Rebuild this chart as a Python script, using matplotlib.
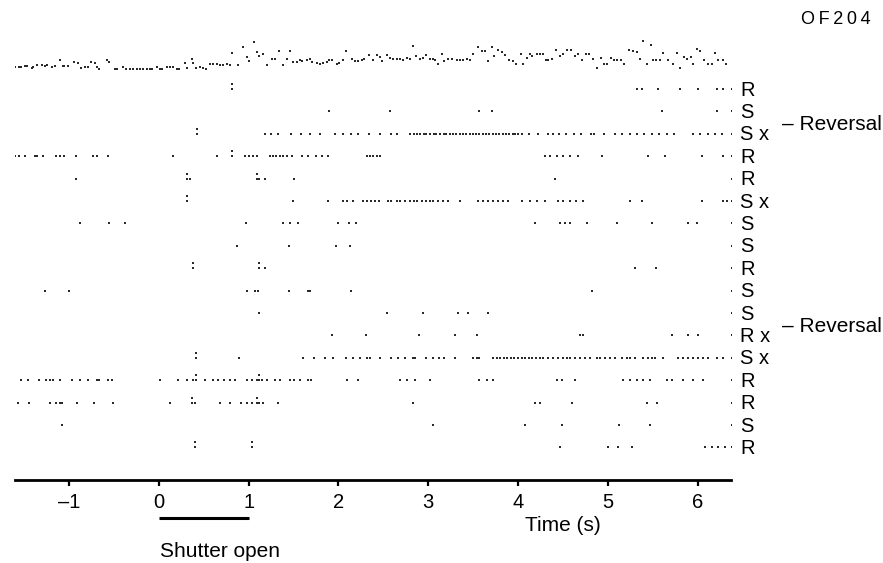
import matplotlib
matplotlib.use('Agg')
import matplotlib.pyplot as plt

plt.rcParams['font.family'] = ['Liberation Sans', 'DejaVu Sans']

# ---- data -------------------------------------------------------------
# top record (time in s, level in arbitrary units)
trace_t = [
    -1.63, -1.60, -1.55, -1.53, -1.49, -1.47, -1.41, -1.40, -1.35, -1.30,
    -1.27, -1.24, -1.19, -1.16, -1.10, -1.07, -1.05, -1.01, -0.94, -0.90,
    -0.86, -0.82, -0.79, -0.75, -0.71, -0.69, -0.66, -0.58, -0.55, -0.49,
    -0.46, -0.40, -0.36, -0.32, -0.29, -0.24, -0.21, -0.18, -0.13, -0.10,
    -0.07, -0.02, 0.01, 0.04, 0.09, 0.12, 0.16, 0.20, 0.23, 0.29,
    0.32, 0.37, 0.38, 0.42, 0.46, 0.49, 0.53, 0.57, 0.60, 0.65,
    0.68, 0.71, 0.76, 0.79, 0.82, 0.88, 0.94, 0.98, 1.01, 1.06,
    1.09, 1.12, 1.16, 1.20, 1.26, 1.29, 1.34, 1.38, 1.43, 1.46,
    1.49, 1.54, 1.57, 1.60, 1.65, 1.68, 1.71, 1.76, 1.79, 1.83,
    1.87, 1.90, 1.93, 1.98, 2.01, 2.05, 2.09, 2.15, 2.18, 2.22,
    2.26, 2.29, 2.34, 2.38, 2.43, 2.46, 2.49, 2.54, 2.57, 2.61,
    2.65, 2.68, 2.72, 2.76, 2.80, 2.83, 2.86, 2.91, 2.94, 2.98,
    3.02, 3.05, 3.07, 3.11, 3.15, 3.18, 3.22, 3.26, 3.32, 3.35,
    3.39, 3.43, 3.46, 3.50, 3.55, 3.60, 3.63, 3.66, 3.71, 3.73,
    3.78, 3.82, 3.85, 3.90, 3.94, 3.98, 4.03, 4.06, 4.10, 4.13,
    4.16, 4.21, 4.24, 4.28, 4.31, 4.33, 4.38, 4.42, 4.47, 4.50,
    4.54, 4.59, 4.63, 4.67, 4.71, 4.76, 4.79, 4.83, 4.88, 4.92,
    4.96, 4.99, 5.03, 5.07, 5.10, 5.14, 5.18, 5.23, 5.28, 5.32,
    5.36, 5.39, 5.43, 5.48, 5.50, 5.53, 5.58, 5.61, 5.67, 5.72,
    5.77, 5.80, 5.85, 5.88, 5.92, 5.95, 5.99, 6.02, 6.07, 6.11,
    6.16, 6.19, 6.23, 6.28, 6.31,
]
trace_level = [
    3, 3, 3, 3, 4, 4, 2, 3, 5, 5,
    4, 5, 3, 4, 10, 4, 4, 4, 8, 7,
    2, 3, 3, 8, 7, 3, 1, 10, 8, 1,
    1, 3, 1, 1, 1, 1, 1, 1, 1, 1,
    1, 3, 1, 1, 3, 3, 3, 1, 1, 7,
    2, 11, 7, 2, 3, 2, 1, 6, 6, 6,
    5, 5, 6, 5, 17, 5, 23, 13, 9, 28,
    18, 14, 16, 5, 11, 11, 19, 5, 11, 19,
    8, 8, 10, 9, 10, 11, 8, 7, 6, 7,
    8, 10, 10, 6, 7, 10, 19, 11, 9, 9,
    10, 11, 15, 10, 15, 13, 9, 15, 12, 11,
    11, 11, 10, 12, 11, 24, 14, 11, 12, 15,
    11, 11, 10, 6, 16, 9, 11, 11, 10, 10,
    10, 11, 10, 16, 23, 19, 19, 9, 23, 14,
    20, 18, 15, 10, 9, 6, 16, 6, 12, 16,
    14, 16, 16, 16, 10, 10, 11, 20, 14, 16,
    20, 20, 14, 16, 10, 16, 16, 11, 2, 12,
    6, 6, 12, 10, 10, 10, 6, 20, 19, 18,
    11, 29, 6, 25, 10, 10, 10, 17, 10, 6,
    17, 2, 13, 11, 13, 6, 21, 19, 10, 6,
    6, 17, 10, 10, 6,
]

row_labels = ['R', 'S', 'S x', 'R', 'R', 'S x', 'S', 'S', 'R',
              'S', 'S', 'R x', 'S x', 'R', 'R', 'S', 'R']
reversal_rows = [2, 11]
row_end = 6.38

row00 = [0.81, 0.81, 5.32, 5.38, 5.56, 5.80, 6.00, 6.21, 6.28]
row01 = [1.90, 2.57, 3.57, 3.71, 5.60, 6.21]
row02 = [0.43, 0.43, 1.18, 1.25, 1.33, 1.47, 1.58, 1.68, 1.80, 1.96, 2.05,
         2.14, 2.22, 2.34, 2.46, 2.59, 2.65, 2.80, 2.84, 2.87, 2.91, 2.95,
         2.98, 3.02, 3.06, 3.09, 3.13, 3.17, 3.20, 3.24, 3.28, 3.31, 3.35,
         3.39, 3.42, 3.46, 3.50, 3.53, 3.57, 3.61, 3.64, 3.68, 3.72, 3.75,
         3.79, 3.83, 3.86, 3.90, 3.94, 3.97, 4.00, 4.04, 4.12, 4.22, 4.33,
         4.39, 4.45, 4.53, 4.62, 4.70, 4.81, 4.84, 4.96, 5.08, 5.16, 5.25,
         5.32, 5.40, 5.49, 5.57, 5.66, 5.73, 5.95, 6.02, 6.11, 6.19, 6.27]
row03 = [-1.60, -1.55, -1.49, -1.38, -1.35, -1.29, -1.14, -1.10, -1.05,
         -0.92, -0.73, -0.69, -0.57, 0.16, 0.65, 0.81, 0.81, 0.96, 1.00,
         1.05, 1.09, 1.24, 1.27, 1.31, 1.35, 1.38, 1.43, 1.48, 1.59, 1.66,
         1.75, 1.82, 1.88, 2.32, 2.35, 2.38, 2.43, 2.46, 4.30, 4.35, 4.43,
         4.50, 4.58, 4.67, 4.93, 5.45, 5.63, 6.05, 6.28]
row04 = [-0.92, 0.31, 0.31, 0.35, 1.09, 1.09, 1.12, 1.18, 1.51, 4.41]
row05 = [0.31, 0.31, 1.49, 1.88, 2.05, 2.10, 2.16, 2.27, 2.32, 2.36, 2.41,
         2.45, 2.55, 2.59, 2.65, 2.69, 2.74, 2.80, 2.84, 2.88, 2.93, 2.97,
         3.02, 3.05, 3.11, 3.16, 3.22, 3.35, 3.55, 3.61, 3.66, 3.72, 3.78,
         3.83, 3.89, 4.04, 4.13, 4.21, 4.30, 4.44, 4.50, 4.58, 4.65, 4.72,
         5.25, 5.38, 6.05, 6.28, 6.33]
row06 = [-0.88, -0.55, -0.38, 0.97, 1.38, 1.46, 1.55, 2.00, 2.12, 2.20,
         4.19, 4.47, 4.52, 4.58, 4.77, 5.10, 5.49, 5.89, 5.99]
row07 = [0.87, 1.45, 1.97, 2.13]
row08 = [0.38, 0.38, 1.12, 1.12, 1.18, 5.30, 5.53]
row09 = [-1.27, -1.00, 0.98, 1.07, 1.10, 1.45, 1.66, 1.68, 2.14, 4.82]
row10 = [1.12, 2.54, 2.94, 3.33, 3.44, 3.66]
row11 = [1.93, 2.31, 2.90, 3.30, 3.54, 4.69, 4.72, 5.71, 5.89, 6.00]
row12 = [0.42, 0.42, 0.89, 1.61, 1.73, 1.85, 1.94, 2.09, 2.16, 2.24, 2.32,
         2.35, 2.46, 2.59, 2.66, 2.74, 2.83, 2.85, 2.98, 3.05, 3.12, 3.18,
         3.30, 3.50, 3.54, 3.57, 3.72, 3.76, 3.80, 3.84, 3.88, 3.92, 3.96,
         4.00, 4.04, 4.08, 4.12, 4.16, 4.20, 4.24, 4.28, 4.33, 4.39, 4.44,
         4.50, 4.54, 4.58, 4.63, 4.69, 4.74, 4.80, 4.88, 4.91, 4.97, 5.02,
         5.08, 5.16, 5.21, 5.25, 5.30, 5.39, 5.45, 5.49, 5.52, 5.61, 5.78,
         5.84, 5.89, 5.95, 6.00, 6.06, 6.11, 6.21, 6.28]
row13 = [-1.53, -1.46, -1.33, -1.25, -1.21, -1.18, -1.10, -0.97, -0.88,
         -0.79, -0.69, -0.66, -0.57, -0.52, 0.01, 0.21, 0.32, 0.38, 0.42,
         0.42, 0.51, 0.60, 0.66, 0.73, 0.79, 0.85, 0.98, 1.04, 1.09, 1.12,
         1.12, 1.15, 1.20, 1.29, 1.35, 1.46, 1.51, 1.57, 1.66, 1.70, 2.10,
         2.22, 2.68, 2.76, 2.85, 3.02, 3.57, 3.65, 3.72, 4.43, 4.49, 4.63,
         5.17, 5.25, 5.32, 5.39, 5.47, 5.66, 5.71, 5.84, 5.95, 6.06]
row14 = [-1.57, -1.44, -1.21, -1.14, -1.10, -1.08, -0.91, -0.72, -0.51,
         0.12, 0.37, 0.37, 0.40, 0.68, 0.79, 0.92, 0.98, 1.04, 1.09, 1.09,
         1.12, 1.16, 1.33, 2.83, 4.19, 4.24, 4.60, 5.43, 5.55]
row15 = [-1.08, 3.05, 4.08, 4.49, 5.12, 5.47]
row16 = [0.40, 0.40, 1.04, 1.04, 4.47, 5.00, 5.11, 5.27, 6.08, 6.16, 6.22,
         6.30]

rows = [row00, row01, row02, row03, row04, row05, row06, row07, row08,
        row09, row10, row11, row12, row13, row14, row15, row16]

x_ticks = [-1, 0, 1, 2, 3, 4, 5, 6]
shutter = (0.0, 1.0)

# ---- figure -----------------------------------------------------------
W, H = 883, 563
fig = plt.figure(figsize=(W / 100, H / 100), dpi=100)
ax = fig.add_axes([15 / W, (H - 480) / H, 716 / W, 445 / H])

fs = 14.5
fs_big = 15
dot = dict(marker='s', ms=1.9, ls='none', color='#2a2a2a', mew=0)

# top record as dotted line
ax.plot(trace_t, [-0.85 - v / 22.4 for v in trace_level], **dot)

# spike rows; repeated times are drawn stacked
for i, spikes in enumerate(rows):
    seen = {}
    xs, ys = [], []
    for t in spikes:
        k = seen.get(t, 0)
        seen[t] = k + 1
        xs.append(t)
        ys.append(i - 0.22 * k)
    ax.plot(xs, ys, **dot)
    ax.plot([row_end], [i], **dot)
    ax.text(6.47, i + 0.05, row_labels[i], fontsize=fs, ha='left',
            va='center', clip_on=False)

for i in reversal_rows:
    ax.text(6.94, i - 0.4, '\u2013 Reversal', fontsize=fs_big, ha='left',
            va='center', clip_on=False)

ax.set_xlim(-1.60, 6.37)
ax.set_ylim(17.46, -2.41)

for s in ['top', 'left', 'right']:
    ax.spines[s].set_visible(False)
ax.spines['bottom'].set_linewidth(2)
ax.set_yticks([])
ax.set_xticks(x_ticks)
ax.set_xticklabels(['\u2013' + str(-v) if v < 0 else str(v) for v in x_ticks])
ax.tick_params(axis='x', direction='out', length=4, width=1.6, pad=5,
               labelsize=fs)

ax.text(4.50, 19.5, 'Time (s)', fontsize=fs_big, ha='center', va='center',
        clip_on=False)

ax.plot(shutter, [19.15, 19.15], color='black', lw=2.2, clip_on=False,
        solid_capstyle='butt')
ax.text(0.68, 20.65, 'Shutter open', fontsize=fs_big, ha='center',
        va='center', clip_on=False)

fig.text(871 / W, 1 - 20 / H, 'O\u2009F\u20092\u20090\u20094', fontsize=13,
         ha='right', va='center')

fig.savefig('out.png', dpi=100, facecolor='white')
